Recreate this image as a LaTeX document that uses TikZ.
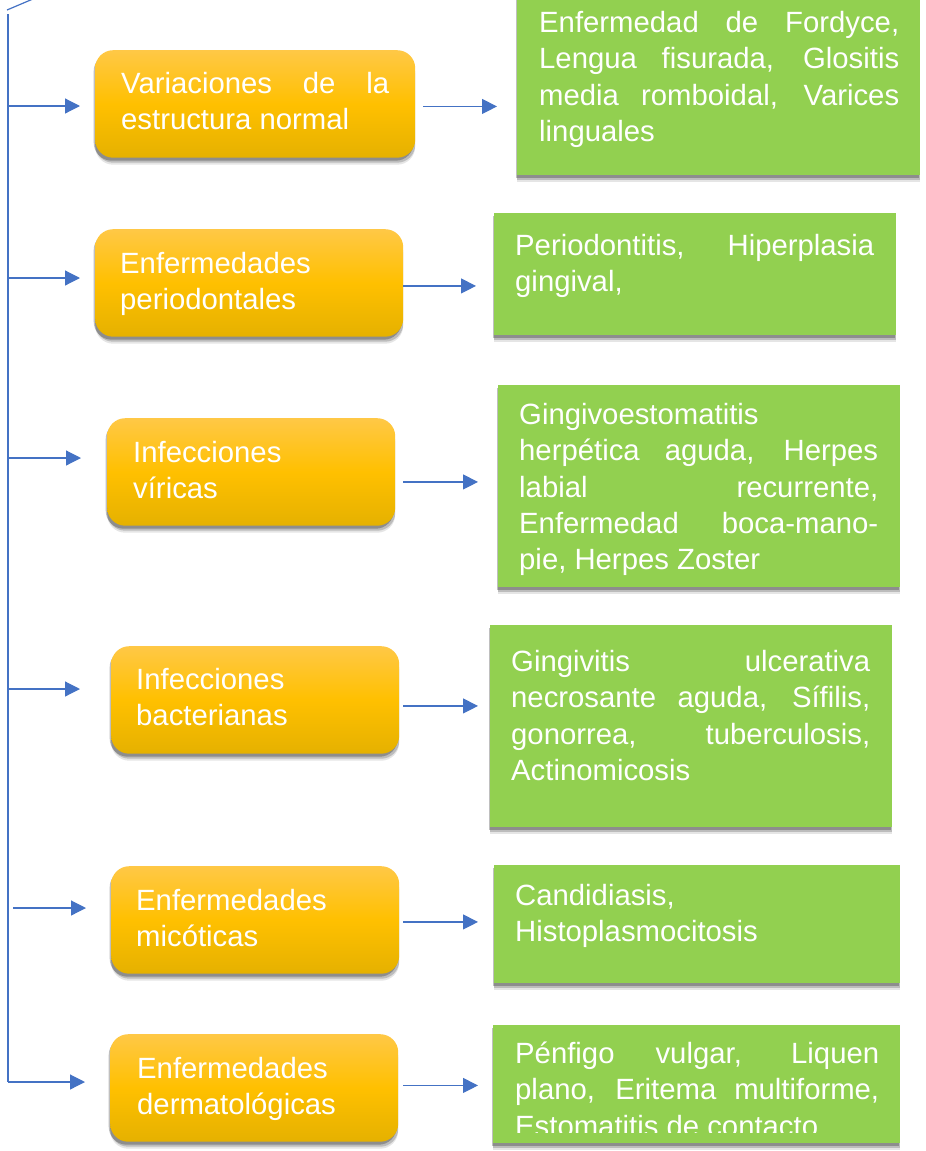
\documentclass[tikz,border=0pt]{standalone}
\usepackage{fontspec}
\setmainfont{Liberation Sans}
\usepackage{tikz}
\usetikzlibrary{positioning,arrows.meta,shadows}

\definecolor{azul}{HTML}{4472C4}
\definecolor{verde}{HTML}{92D050}
\definecolor{oroA}{HTML}{FFC846}
\definecolor{oroB}{HTML}{FFC000}
\definecolor{oroC}{HTML}{E5B100}

\setlength{\parindent}{0pt}
\hyphenpenalty=10000
\exhyphenpenalty=10000
\newcommand{\texto}{\fontsize{29.3}{36.4}\selectfont}
\newcommand{\sube}{\rule{0pt}{25pt}}

\begin{document}
\begin{tikzpicture}[x=1pt,y=-1pt,
	linea/.style={azul,line width=1.2pt},
	flecha/.style={linea,-{Triangle[length=15pt,width=15pt]}},
	sombra/.style={drop shadow={shadow xshift=0pt,shadow yshift=-7pt,opacity=.1,fill=black},
		drop shadow={shadow xshift=0pt,shadow yshift=-5pt,opacity=.18,fill=black},
		drop shadow={shadow xshift=-1.5pt,shadow yshift=-3pt,opacity=.25,fill=black}},
	grupo/.style={anchor=north west,inner sep=0pt,minimum height=107.5pt,rounded corners=18pt,top color=oroA,bottom color=oroC,middle color=oroB,sombra},
	ejemplo/.style={anchor=north west,inner sep=0pt,fill=verde,sombra},
	texto/.style={inner sep=0pt,text=white,align=justify,font=\texto}]

    \clip (0,0) rectangle (926,1151);

    % grupos
    \node[grupo,minimum width=320pt] (var) at (95,50) {};
    \node[grupo,minimum width=308pt] (peri) at (95,229) {};
    \node[grupo,minimum width=288pt] (vir) at (107,418) {};
    \node[grupo,minimum width=288pt] (bac) at (111,646) {};
    \node[grupo,minimum width=288pt] (mic) at (111,866) {};
    \node[grupo,minimum width=288pt] (derm) at (110,1034) {};

    \node[texto,text width=268pt,below right=18pt and 26pt of var.north west] (var-t) {\sube Variaciones de la\linebreak estructura normal};
    \node[texto,text width=256pt,below right=19pt and 25pt of peri.north west] (peri-t) {\sube Enfermedades\newline periodontales};
    \node[texto,text width=236pt,below right=19pt and 26pt of vir.north west] (vir-t) {\sube Infecciones\newline víricas};
    \node[texto,text width=236pt,below right=18pt and 25pt of bac.north west] (bac-t) {\sube Infecciones\newline bacterianas};
    \node[texto,text width=236pt,below right=19pt and 25pt of mic.north west] (mic-t) {\sube Enfermedades\newline micóticas};
    \node[texto,text width=236pt,below right=19pt and 27pt of derm.north west] (derm-t) {\sube Enfermedades\newline dermatológicas};

    % ejemplos
    \node[ejemplo,minimum width=403pt,minimum height=185pt] (var-ej) at (517,-10) {};
    \node[ejemplo,minimum width=402pt,minimum height=122pt] (peri-ej) at (494,213) {};
    \node[ejemplo,minimum width=402pt,minimum height=202pt] (vir-ej) at (498,385) {};
    \node[ejemplo,minimum width=402pt,minimum height=202pt] (bac-ej) at (490,625) {};
    \node[ejemplo,minimum width=406pt,minimum height=118pt] (mic-ej) at (494,865) {};
    \node[ejemplo,minimum width=407pt,minimum height=118pt] (derm-ej) at (493,1025) {};

    \node[texto,text width=360pt,below right=17pt and 22pt of var-ej.north west] (var-ej-t) {\sube Enfermedad de Fordyce,\linebreak Lengua fisurada, Glositis\linebreak media romboidal, Varices\linebreak linguales};
    \node[texto,text width=359pt,below right=17pt and 21pt of peri-ej.north west] (peri-ej-t) {\sube Periodontitis, Hiperplasia\linebreak gingival,};
    \node[texto,text width=359pt,below right=14pt and 21pt of vir-ej.north west] (vir-ej-t) {\sube Gingivoestomatitis\newline herpética aguda, Herpes\linebreak labial recurrente,\linebreak Enfermedad boca-mano-\linebreak pie, Herpes Zoster};
    \node[texto,text width=359pt,below right=21pt and 21pt of bac-ej.north west] (bac-ej-t) {\sube Gingivitis ulcerativa\linebreak necrosante aguda, Sífilis,\linebreak gonorrea, tuberculosis,\linebreak Actinomicosis};
    \node[texto,text width=363pt,below right=15pt and 21pt of mic-ej.north west] (mic-ej-t) {\sube Candidiasis,\newline Histoplasmocitosis};
    \begin{scope}
    \clip (493,1025) rectangle (900,1132);
    \node[texto,text width=364pt,below right=13pt and 22pt of derm-ej.north west] (derm-ej-t) {\sube Pénfigo vulgar, Liquen\linebreak plano, Eritema multiforme,\linebreak Estomatitis de contacto};
    \end{scope}

    % eje de la izquierda
    \coordinate (arriba) at (8,14);
    \coordinate (s1) at (8,106);
    \coordinate (s2) at (8,278);
    \coordinate (s3) at (8,458);
    \coordinate (s4) at (8,689);
    \coordinate (s5) at (13,908);
    \coordinate (s6) at (8,1082);

    \draw[linea] (7,10) -- (40,-4);
    \draw[linea] (arriba) -- (s6);
    \draw[flecha,shorten >=15pt] (s1) -- (s1 -| var.west);
    \draw[flecha,shorten >=15pt] (s2) -- (s2 -| peri.west);
    \draw[flecha,shorten >=26pt] (s3) -- (s3 -| vir.west);
    \draw[flecha,shorten >=31pt] (s4) -- (s4 -| bac.west);
    \draw[flecha,shorten >=25pt] (s5) -- (s5 -| mic.west);
    \draw[flecha,shorten >=25pt] (s6) -- (s6 -| derm.west);

    % grupo -> ejemplo
    \draw[flecha,shorten <=8pt,shorten >=20pt] ([yshift=-2.5pt]var.east) -- ([yshift=-2.5pt]var.east -| var-ej.west);
    \draw[flecha,shorten >=18pt] ([yshift=-3pt]peri.east) -- ([yshift=-3pt]peri.east -| peri-ej.west);
    \draw[flecha,shorten <=8pt,shorten >=20pt] ([yshift=-10pt]vir.east) -- ([yshift=-10pt]vir.east -| vir-ej.west);
    \draw[flecha,shorten <=4pt,shorten >=12pt] ([yshift=-6pt]bac.east) -- ([yshift=-6pt]bac.east -| bac-ej.west);
    \draw[flecha,shorten <=4pt,shorten >=16pt] ([yshift=-2pt]mic.east) -- ([yshift=-2pt]mic.east -| mic-ej.west);
    \draw[flecha,shorten <=5pt,shorten >=15pt] ([yshift=2.5pt]derm.east) -- ([yshift=2.5pt]derm.east -| derm-ej.west);
\end{tikzpicture}
\end{document}
